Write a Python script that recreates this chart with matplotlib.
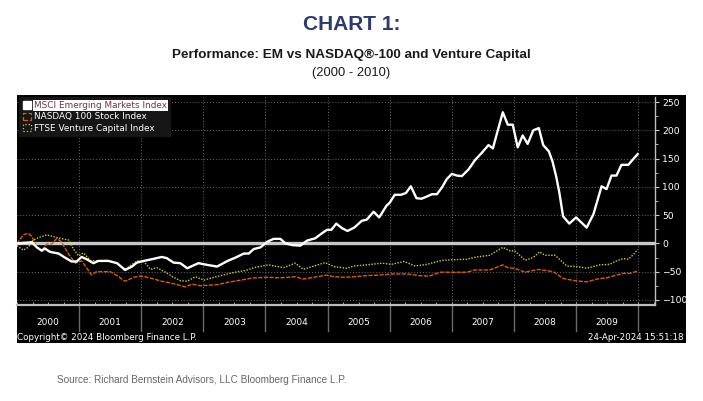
import numpy as np
import matplotlib.pyplot as plt
from matplotlib.patches import Rectangle, Patch
from matplotlib.transforms import blended_transform_factory

# MSCI Emerging Markets Index, cumulative % (decimal year, value)
em_dates = [2000.0, 2000.24, 2000.32, 2000.40, 2000.45, 2000.53, 2000.67, 2000.77, 2000.88, 2000.96,
            2001.04, 2001.12, 2001.23, 2001.31, 2001.47, 2001.61, 2001.74, 2001.85, 2001.93, 2002.04,
            2002.17, 2002.33, 2002.41, 2002.52, 2002.63, 2002.74, 2002.82, 2002.92, 2003.06, 2003.22,
            2003.39, 2003.52, 2003.65, 2003.73, 2003.81, 2003.92, 2004.03, 2004.13, 2004.24, 2004.32,
            2004.43, 2004.56, 2004.67, 2004.80, 2004.91, 2004.99, 2005.06, 2005.14, 2005.23, 2005.32,
            2005.43, 2005.55, 2005.63, 2005.74, 2005.83, 2005.95, 2006.0, 2006.08, 2006.18, 2006.26,
            2006.34, 2006.43, 2006.51, 2006.60, 2006.68, 2006.76, 2006.84, 2006.92, 2007.00, 2007.08,
            2007.16, 2007.27, 2007.37, 2007.48, 2007.59, 2007.66, 2007.74, 2007.82, 2007.90, 2007.98,
            2008.06, 2008.14, 2008.22, 2008.31, 2008.40, 2008.47, 2008.56, 2008.62, 2008.68, 2008.73,
            2008.79, 2008.89, 2009.00, 2009.17, 2009.28, 2009.41, 2009.49, 2009.57, 2009.65, 2009.73,
            2009.84, 2009.99]
em_vals = [0, 2, -7, -13, -9, -15, -18, -25, -32, -32,
           -24, -28, -35, -31, -31, -35, -47, -41, -34, -31,
           -28, -24, -26, -34, -35, -44, -40, -35, -38, -41,
           -31, -25, -18, -18, -10, -7, 3, 8, 8, 0,
           -3, -4, 5, 9, 18, 24, 24, 35, 27, 22,
           28, 40, 42, 56, 46, 67, 72, 86, 86, 89,
           101, 80, 79, 83, 87, 87, 99, 114, 123, 120,
           119, 131, 147, 160, 174, 168, 200, 232, 210, 210,
           170, 191, 176, 200, 204, 174, 163, 145, 118, 90,
           48, 35, 46, 28, 52, 101, 96, 120, 120, 139,
           139, 158]

# NASDAQ 100 Stock Index
nq_dates = [2000.0, 2000.10, 2000.18, 2000.24, 2000.32, 2000.40, 2000.48, 2000.56, 2000.64, 2000.72,
            2000.83, 2000.94, 2001.04, 2001.12, 2001.20, 2001.28, 2001.39, 2001.50, 2001.61, 2001.74,
            2001.88, 2001.98, 2002.06, 2002.20, 2002.33, 2002.47, 2002.58, 2002.71, 2002.82, 2002.95,
            2003.22, 2003.39, 2003.60, 2003.81, 2004.03, 2004.24, 2004.48, 2004.61, 2004.78, 2004.98,
            2005.10, 2005.31, 2005.42, 2005.63, 2005.84, 2006.06, 2006.28, 2006.47, 2006.63, 2006.81,
            2007.00, 2007.24, 2007.37, 2007.61, 2007.82, 2007.90, 2008.01, 2008.18, 2008.39, 2008.63,
            2008.79, 2008.98, 2009.17, 2009.38, 2009.49, 2009.62, 2009.76, 2009.87, 2009.99]
nq_vals = [-1, 15, 18, 12, -7, -12, -1, -1, 9, 2,
           -19, -35, -31, -43, -56, -50, -50, -50, -57, -67,
           -60, -58, -59, -63, -67, -70, -73, -77, -72, -75,
           -73, -69, -65, -61, -60, -61, -59, -63, -60, -56,
           -59, -60, -59, -57, -56, -54, -54, -57, -58, -51,
           -51, -51, -47, -47, -38, -43, -44, -51, -46, -50,
           -62, -66, -68, -62, -61, -57, -53, -53, -49]

# FTSE Venture Capital Index
vc_dates = [2000.0, 2000.10, 2000.18, 2000.26, 2000.37, 2000.48, 2000.59, 2000.69, 2000.83, 2000.91,
            2000.99, 2001.07, 2001.18, 2001.28, 2001.45, 2001.61, 2001.74, 2001.93, 2002.04, 2002.15,
            2002.25, 2002.39, 2002.52, 2002.63, 2002.74, 2002.87, 2003.01, 2003.17, 2003.39, 2003.55,
            2003.68, 2003.81, 2004.05, 2004.29, 2004.48, 2004.61, 2004.78, 2004.96, 2005.10, 2005.31,
            2005.42, 2005.63, 2005.87, 2006.03, 2006.23, 2006.41, 2006.60, 2006.84, 2007.00, 2007.24,
            2007.40, 2007.61, 2007.82, 2007.93, 2008.01, 2008.18, 2008.31, 2008.41, 2008.50, 2008.66,
            2008.85, 2009.01, 2009.17, 2009.38, 2009.54, 2009.65, 2009.76, 2009.84, 2009.92, 2009.99]
vc_vals = [-4, -12, -7, 6, 11, 15, 12, 9, 6, -10,
           -22, -17, -30, -31, -30, -35, -46, -31, -32, -46,
           -43, -51, -60, -66, -67, -59, -65, -60, -54, -50,
           -48, -43, -38, -43, -35, -46, -40, -34, -41, -44,
           -40, -38, -35, -37, -32, -40, -37, -30, -29, -28,
           -24, -21, -7, -13, -13, -30, -25, -15, -21, -21,
           -40, -41, -44, -38, -37, -31, -27, -28, -20, -11]

years = list(range(2000, 2010))
labels = ["MSCI Emerging Markets Index", "NASDAQ 100 Stock Index", "FTSE Venture Capital Index"]

W, H = 703, 401
fig = plt.figure(figsize=(W / 100, H / 100), dpi=100)
fig.patch.set_facecolor("white")

def fx(px):
    return px / W

def fy(py):
    return 1 - py / H

# black bloomberg panel behind everything
fig.patches.append(Rectangle((fx(17), fy(343)), fx(686) - fx(17), fy(95) - fy(343),
                             transform=fig.transFigure, facecolor="black", edgecolor="none", zorder=-5))

ax = fig.add_axes([fx(17), fy(305), fx(655) - fx(17), fy(97) - fy(305)])
ax.set_zorder(2)
ax.set_facecolor("black")

grid_kw = dict(color="#6a6a6a", lw=0.7, linestyle=(0, (1, 2)), zorder=1)
for v in [-100, -50, 50, 100, 150, 200, 250]:
    ax.axhline(v, **grid_kw)
for y in years[1:] + [2010]:
    ax.axvline(y, **grid_kw)
ax.axhline(0, color="#c8c8c8", lw=2.4, zorder=2)

ax.plot(vc_dates, vc_vals, color="#d2d214", lw=1.0, linestyle=(0, (1, 1.1)), zorder=3)
ax.plot(nq_dates, nq_vals, color="#e05a00", lw=1.0, linestyle=(0, (3, 1)), zorder=3)
ax.plot(em_dates, em_vals, color="white", lw=1.7, zorder=4)

ax.set_xlim(2000.0, 2010.27)
ax.set_ylim(-109, 259)

for s in ["top", "left"]:
    ax.spines[s].set_visible(False)
ax.spines["right"].set_color("#bdbdbd")
ax.spines["right"].set_linewidth(1.0)
ax.spines["bottom"].set_color("#bdbdbd")
ax.spines["bottom"].set_linewidth(1.6)

ax.yaxis.tick_right()
ax.set_yticks([-100, -50, 0, 50, 100, 150, 200, 250])
ax.set_yticks(np.arange(-100, 260, 25), minor=True)
ax.tick_params(axis="y", which="both", colors="#d0d0d0", labelcolor="white", labelsize=6.7,
               direction="out", length=3, pad=2)
ax.tick_params(axis="y", which="minor", length=2)

ax.set_xticks([])
ax.set_xticks(np.arange(2000, 2010.3, 0.25), minor=True)
ax.tick_params(axis="x", which="minor", direction="in", length=2.5, colors="#bdbdbd")

# year band below the plot
tr = blended_transform_factory(ax.transData, ax.transAxes)
for y in years[1:] + [2010]:
    ax.plot([y, y], [0, -0.125], transform=tr, color="#6a6a6a", lw=1.0, clip_on=False)
for y in years:
    ax.text(y + 0.5, -0.085, str(y), transform=tr, color="white", fontsize=6.5,
            ha="center", va="center")

fig.text(fx(17), fy(337.5), "Copyright\u00a9 2024 Bloomberg Finance L.P.", color="white",
         fontsize=6.3, ha="left", va="center")
fig.text(fx(684), fy(337.5), "24-Apr-2024 15:51:18", color="white",
         fontsize=6.3, ha="right", va="center")

handles = [Patch(facecolor="white", edgecolor="white"),
           Patch(facecolor="none", edgecolor="#e05a00", linestyle="--", lw=0.9),
           Patch(facecolor="none", edgecolor="#d2d214", linestyle=":", lw=0.9)]
leg = ax.legend(handles, labels, loc="upper left", bbox_to_anchor=(0.0, 1.01), fontsize=6.4,
                frameon=True, facecolor="#161616", edgecolor="none", framealpha=1,
                handlelength=0.9, handleheight=0.9, handletextpad=0.3, labelspacing=0.25,
                borderpad=0.5, borderaxespad=0.2, fancybox=False)
for t in leg.get_texts():
    t.set_color("white")
leg.get_texts()[0].set_color("#6b3344")
leg.get_texts()[0].set_bbox(dict(facecolor="white", edgecolor="none", pad=0.6))

# titles
fig.text(0.5, fy(25), "CHART 1:", color="#2d3a6e", fontsize=15, fontweight="bold",
         family="Liberation Sans", ha="center", va="center")
fig.text(0.5, fy(55), "Performance: EM vs NASDAQ\u00ae-100 and Venture Capital", color="#1a1a1a",
         fontsize=9.7, fontweight="bold", family="Liberation Sans",
         ha="center", va="center")
fig.text(0.5, fy(73), "(2000 - 2010)", color="#1a1a1a", fontsize=9.3,
         family="Liberation Sans", ha="center", va="center")
fig.text(fx(57), fy(380), "Source: Richard Bernstein Advisors, LLC Bloomberg Finance L.P.",
         color="#666666", fontsize=7.2, family="Liberation Sans", ha="left", va="center")

fig.savefig("out.png", dpi=100, facecolor="white")
